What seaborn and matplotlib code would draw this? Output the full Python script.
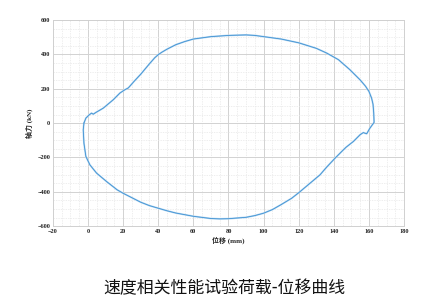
import matplotlib
matplotlib.use("Agg")
import matplotlib.pyplot as plt
import seaborn as sns
import pandas as pd
from matplotlib.ticker import MultipleLocator

# Load-displacement loop: upper branch (left -> right), lower branch (right -> left)
upper_disp = [-2.3, -1.2, 0.7, 2.0, 3.0, 4.5, 8.7, 14.4, 18.2, 21.0, 23.0, 26.0, 30.0,
              35.0, 38.0, 40.0, 42.0, 45.0, 50.0, 55.0, 60.0, 70.0, 80.0, 90.0,
              95.0, 100.0, 110.0, 120.0, 130.0, 136.0, 142.6, 149.2, 154.9, 158.0,
              160.0, 161.5, 162.3, 162.7, 162.9]
upper_force = [0, 29, 48, 58, 52, 62, 87, 136, 175, 194, 205, 240, 284,
               345, 380, 398, 412, 430, 456, 474, 489, 503, 510, 513,
               510, 503, 489, 467, 435, 407, 369, 310, 252, 215,
               184, 145, 110, 60, 9]

lower_disp = [162.9, 160.5, 158.7, 157.5, 156.8, 154.9, 151.1, 147.0, 144.5, 140.7,
              136.0, 132.1, 126.4, 120.0, 116.0, 110.0, 105.0, 100.0, 95.0, 90.0,
              80.0, 75.0, 70.0, 60.0, 50.0, 45.0, 40.0, 35.0, 30.0, 20.0, 16.6, 10.6,
              4.9, 1.1, -1.2, -2.3, -2.7, -2.3]
lower_force = [4, -30, -62, -58, -55, -68, -107, -140, -165, -204,
               -255, -301, -350, -405, -437, -474, -503, -524, -538, -548,
               -556, -557, -555, -542, -523, -510, -495, -480, -460, -408, -388, -340,
               -291, -243, -194, -117, -39, 0]

x_ticks = [-20, 0, 20, 40, 60, 80, 100, 120, 140, 160, 180]
y_ticks = [-600, -400, -200, 0, 200, 400, 600]

xlabel = "位移 (mm)"
ylabel = "轴力 (kN)"
title = "速度相关性能试验荷载-位移曲线"

df = pd.DataFrame({
    "disp": upper_disp + lower_disp,
    "force": upper_force + lower_force,
})

sns.set_style("white")
plt.rcParams["font.family"] = ["Liberation Serif", "Noto Sans CJK SC"]

fig = plt.figure(figsize=(4.48, 3.07), dpi=100)
ax = fig.add_axes([0.118, 0.263, 0.784, 0.672])

# soft underlay then the main trace
sns.lineplot(data=df, x="disp", y="force", sort=False, estimator=None,
             color="#b6d8f2", linewidth=1.3, ax=ax)
sns.lineplot(data=df, x="disp", y="force", sort=False, estimator=None,
             color="#3f91d2", linewidth=0.6, ax=ax)

ax.set_xlim(-20, 180)
ax.set_ylim(-600, 600)
ax.set_xticks(x_ticks)
ax.set_yticks(y_ticks)
ax.xaxis.set_minor_locator(MultipleLocator(5))
ax.yaxis.set_minor_locator(MultipleLocator(50))
ax.grid(which="major", color="#d2d2d2", linewidth=0.7)
ax.grid(which="minor", color="#e8e8e8", linewidth=0.5, linestyle=(0, (2, 1.5)))
ax.set_axisbelow(True)
for s in ax.spines.values():
    s.set_color("#d0d0d0")
    s.set_linewidth(0.7)

ax.tick_params(which="both", length=0, pad=2, labelsize=4.5, labelcolor="#222222")
for lab in ax.get_xticklabels() + ax.get_yticklabels():
    lab.set_fontweight("bold")

ax.set_xlabel(xlabel, fontsize=5, fontweight="bold", labelpad=2,
              family=["Liberation Serif", "Noto Sans CJK SC"])
ax.set_ylabel(ylabel, fontsize=5, fontweight="bold", labelpad=3,
              family=["Liberation Serif", "Noto Sans CJK SC"])

fig.text(0.5, 0.062, title, ha="center", va="center", fontsize=12.2,
         family=["Noto Sans CJK SC", "DejaVu Sans"], color="#111111")

fig.savefig("out.png", dpi=100, facecolor="white")
